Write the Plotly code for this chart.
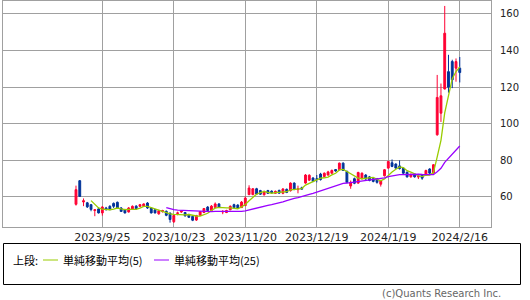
import plotly.graph_objects as go
import pandas as pd

dates = [
    "2023/9/13", "2023/9/14", "2023/9/15", "2023/9/19", "2023/9/20", "2023/9/21", "2023/9/22",
    "2023/9/25", "2023/9/26", "2023/9/27", "2023/9/28", "2023/9/29",
    "2023/10/2", "2023/10/3", "2023/10/4", "2023/10/5", "2023/10/6", "2023/10/10", "2023/10/11",
    "2023/10/12", "2023/10/13", "2023/10/16", "2023/10/17", "2023/10/18", "2023/10/19", "2023/10/20",
    "2023/10/23", "2023/10/24", "2023/10/25", "2023/10/26", "2023/10/27", "2023/10/30", "2023/10/31",
    "2023/11/1", "2023/11/2", "2023/11/6", "2023/11/7", "2023/11/8", "2023/11/9", "2023/11/10",
    "2023/11/13", "2023/11/14", "2023/11/15", "2023/11/16", "2023/11/17", "2023/11/20", "2023/11/21",
    "2023/11/22", "2023/11/24", "2023/11/27", "2023/11/28", "2023/11/29", "2023/11/30",
    "2023/12/1", "2023/12/4", "2023/12/5", "2023/12/6", "2023/12/7", "2023/12/11", "2023/12/12",
    "2023/12/13", "2023/12/14", "2023/12/15", "2023/12/18", "2023/12/19", "2023/12/20", "2023/12/21",
    "2023/12/22", "2023/12/25", "2023/12/26", "2023/12/27", "2023/12/28", "2023/12/29",
    "2024/1/4", "2024/1/5", "2024/1/9", "2024/1/10", "2024/1/11", "2024/1/12", "2024/1/15",
    "2024/1/16", "2024/1/17", "2024/1/18", "2024/1/19", "2024/1/22", "2024/1/23", "2024/1/24",
    "2024/1/25", "2024/1/26", "2024/1/29", "2024/1/30", "2024/1/31",
    "2024/2/1", "2024/2/2", "2024/2/5", "2024/2/6", "2024/2/7", "2024/2/8", "2024/2/9",
    "2024/2/13", "2024/2/14", "2024/2/15", "2024/2/16",
]

opens = [
    56.0, 68.9, 57.3, 56.8, 55.8, 52.6, 53.5, 51.3, 54.0, 54.9, 56.5, 57.1,
    54.0, 53.1, 51.8, 53.2, 55.0, 54.9, 54.9, 56.7, 54.0, 53.0, 50.8, 52.0, 52.2, 51.2,
    46.5, 51.0, 51.8, 51.5, 50.3, 49.4, 47.4,
    50.0, 51.5, 54.5, 52.6, 54.3, 56.2, 51.8, 51.5, 53.0, 55.8, 55.6, 54.2, 55.3, 61.3,
    61.3, 64.5, 63.5, 61.2, 63.5, 63.2,
    62.0, 63.6, 62.0, 64.2, 63.4, 67.6, 64.0, 65.0, 67.6, 69.2, 70.4, 70.0, 72.5, 71.2,
    72.0, 73.0, 75.0, 74.9, 78.5, 74.0,
    66.0, 70.0, 67.6, 70.0, 72.0, 71.0, 70.0, 70.0, 67.0, 71.6, 75.8, 78.7, 78.0, 77.0,
    75.8, 73.5, 71.0, 72.5, 70.9,
    72.2, 72.2, 75.3, 73.1, 94.0, 105.8, 119.0, 128.5, 134.0, 130.4, 130.4,
]
highs = [
    66.2, 69.2, 59.2, 57.3, 56.0, 53.4, 54.2, 55.0, 54.6, 55.5, 57.0, 57.5,
    54.5, 53.5, 54.5, 55.4, 55.5, 56.2, 56.5, 57.2, 54.5, 53.5, 53.0, 53.0, 52.6, 51.5,
    50.3, 52.0, 52.6, 51.8, 50.8, 49.9, 50.2,
    52.3, 54.0, 55.0, 55.6, 57.0, 56.6, 52.8, 53.0, 55.4, 56.3, 56.0, 57.8, 60.3, 66.4,
    64.9, 65.0, 63.9, 63.5, 63.9, 63.6,
    63.5, 64.0, 64.8, 64.6, 68.0, 68.0, 66.2, 65.6, 72.5, 72.4, 70.8, 72.0, 73.2, 73.4,
    74.3, 75.0, 75.3, 78.8, 78.9, 74.4,
    69.0, 70.6, 73.8, 73.4, 72.5, 71.5, 70.6, 70.4, 69.4, 75.3, 79.8, 80.5, 78.4, 80.0,
    76.2, 74.0, 72.8, 72.9, 72.6,
    72.6, 74.9, 75.7, 78.0, 126.7, 122.0, 164.4, 137.7, 135.0, 135.7, 136.5,
]
lows = [
    55.3, 60.0, 55.0, 54.0, 52.2, 49.5, 51.0, 49.8, 52.5, 52.8, 54.0, 53.5,
    52.0, 51.0, 51.5, 53.0, 53.0, 54.5, 54.5, 53.5, 51.0, 51.0, 50.3, 51.5, 49.5, 46.0,
    45.8, 50.0, 51.3, 49.3, 48.5, 46.8, 46.9,
    49.8, 51.2, 52.2, 52.3, 54.0, 54.0, 50.6, 51.2, 52.8, 53.8, 53.6, 54.0, 55.0, 61.0,
    61.0, 61.2, 61.2, 60.8, 61.7, 61.8,
    61.7, 61.8, 61.5, 62.1, 63.0, 63.7, 62.0, 64.0, 67.2, 68.8, 68.1, 68.0, 69.0, 70.8,
    71.6, 72.6, 73.8, 74.5, 74.2, 67.5,
    64.5, 67.0, 67.2, 69.6, 69.4, 68.6, 68.0, 67.3, 65.7, 71.2, 75.4, 76.3, 75.4, 75.0,
    72.6, 70.6, 70.6, 70.6, 69.8,
    69.4, 71.8, 72.6, 72.8, 93.5, 101.0, 118.8, 117.0, 119.5, 123.0, 122.6,
]
closes = [
    64.0, 60.3, 57.9, 54.6, 53.2, 53.0, 51.3, 54.5, 53.3, 53.1, 54.9, 54.0,
    52.1, 51.3, 54.0, 54.9, 53.6, 55.8, 56.2, 54.0, 51.3, 51.3, 52.5, 52.6, 50.0, 47.7,
    49.9, 51.3, 52.3, 49.7, 48.9, 47.3, 49.9,
    52.0, 53.7, 52.6, 55.0, 56.2, 54.3, 52.1, 52.6, 54.9, 54.2, 54.0, 57.2, 59.4, 64.9,
    64.5, 61.6, 61.5, 62.9, 62.0, 62.3,
    63.1, 62.1, 64.4, 62.5, 67.6, 64.1, 64.5, 64.3, 72.0, 71.9, 68.5, 69.6, 69.5, 73.0,
    73.7, 74.5, 74.2, 78.5, 74.5, 68.0,
    68.0, 67.5, 73.4, 73.0, 69.8, 69.0, 68.5, 68.0, 69.0, 74.9, 79.4, 76.7, 75.8, 75.5,
    73.0, 71.0, 72.4, 71.0, 71.2,
    70.3, 74.5, 73.0, 77.6, 114.4, 115.3, 149.5, 120.0, 124.0, 134.0, 128.0,
]

tick_dates = ["2023/9/25", "2023/10/23", "2023/11/20", "2023/12/19", "2024/1/19", "2024/2/16"]
y_ticks = [60, 80, 100, 120, 140, 160]
ma_short_label = "単純移動平均(5)"
ma_long_label = "単純移動平均(25)"
legend_title = "上段:"
credit = "(c)Quants Research Inc."

RED = "#ff0033"
BLUE = "#003399"
GREEN = "#99cc00"
PURPLE = "#9900ff"
GRID = "#a0a0a0"

s = pd.Series(closes)
ma5 = s.rolling(5).mean()
ma25 = s.rolling(25).mean()

fig = go.Figure()
fig.add_trace(go.Candlestick(
    x=dates, open=opens, high=highs, low=lows, close=closes,
    increasing=dict(line=dict(color=RED, width=1), fillcolor=RED),
    decreasing=dict(line=dict(color=BLUE, width=1), fillcolor=BLUE),
    whiskerwidth=0, showlegend=False, hoverinfo="skip",
))
fig.add_trace(go.Scatter(x=dates, y=ma5, mode="lines", line=dict(color=GREEN, width=1.3),
                         showlegend=False, hoverinfo="skip"))
fig.add_trace(go.Scatter(x=dates, y=ma25, mode="lines", line=dict(color=PURPLE, width=1.3),
                         showlegend=False, hoverinfo="skip"))

L, R, T, B = 3, 39, 1, 73
W, H = 530, 300
pw, ph = W - L - R, H - T - B

def px(x):
    return (x - L) / pw

def py(y):
    return (H - B - y) / ph

shapes = [
    dict(type="rect", xref="paper", yref="paper", x0=px(3.5), x1=px(520.5), y0=py(284.5), y1=py(243.5),
         line=dict(color="#000000", width=1)),
    dict(type="line", xref="paper", yref="paper", x0=px(43), x1=px(58), y0=py(260), y1=py(260),
         line=dict(color=GREEN, width=1)),
    dict(type="line", xref="paper", yref="paper", x0=px(154), x1=px(169), y0=py(260), y1=py(260),
         line=dict(color=PURPLE, width=1)),
]
jp = "Noto Sans CJK JP"
annotations = [
    dict(text=legend_title, xref="paper", yref="paper", x=px(11), y=py(260), xanchor="left", yanchor="middle",
         showarrow=False, font=dict(family=jp, size=11, color="#000000")),
    dict(text=ma_short_label, xref="paper", yref="paper", x=px(61), y=py(260), xanchor="left", yanchor="middle",
         showarrow=False, font=dict(family=jp, size=11, color="#000000")),
    dict(text=ma_long_label, xref="paper", yref="paper", x=px(172), y=py(260), xanchor="left", yanchor="middle",
         showarrow=False, font=dict(family=jp, size=11, color="#000000")),
    dict(text=credit, xref="paper", yref="paper", x=px(503), y=py(293.5), xanchor="right", yanchor="middle",
         showarrow=False, font=dict(family="DejaVu Sans", size=10, color="#666666")),
]

fig.update_layout(
    width=W, height=H,
    margin=dict(l=L, r=R, t=T, b=B, pad=0),
    paper_bgcolor="#ffffff", plot_bgcolor="#ffffff",
    font=dict(family="DejaVu Sans", size=11, color="#222222"),
    shapes=shapes, annotations=annotations,
    xaxis=dict(
        type="category", range=[-19.4, 110.3], rangeslider=dict(visible=False),
        tickmode="array", tickvals=tick_dates, ticktext=tick_dates,
        showgrid=True, gridcolor=GRID, gridwidth=1,
        showline=True, linecolor=GRID, linewidth=1, mirror=True,
        ticks="", tickfont=dict(size=11), zeroline=False,
    ),
    yaxis=dict(
        side="right", range=[43.6, 167.1], tickvals=y_ticks,
        showgrid=True, gridcolor=GRID, gridwidth=1,
        showline=True, linecolor=GRID, linewidth=1, mirror=True,
        ticks="", tickfont=dict(size=10), zeroline=False, ticklabelstandoff=6,
    ),
)

fig.write_html("out.html")
